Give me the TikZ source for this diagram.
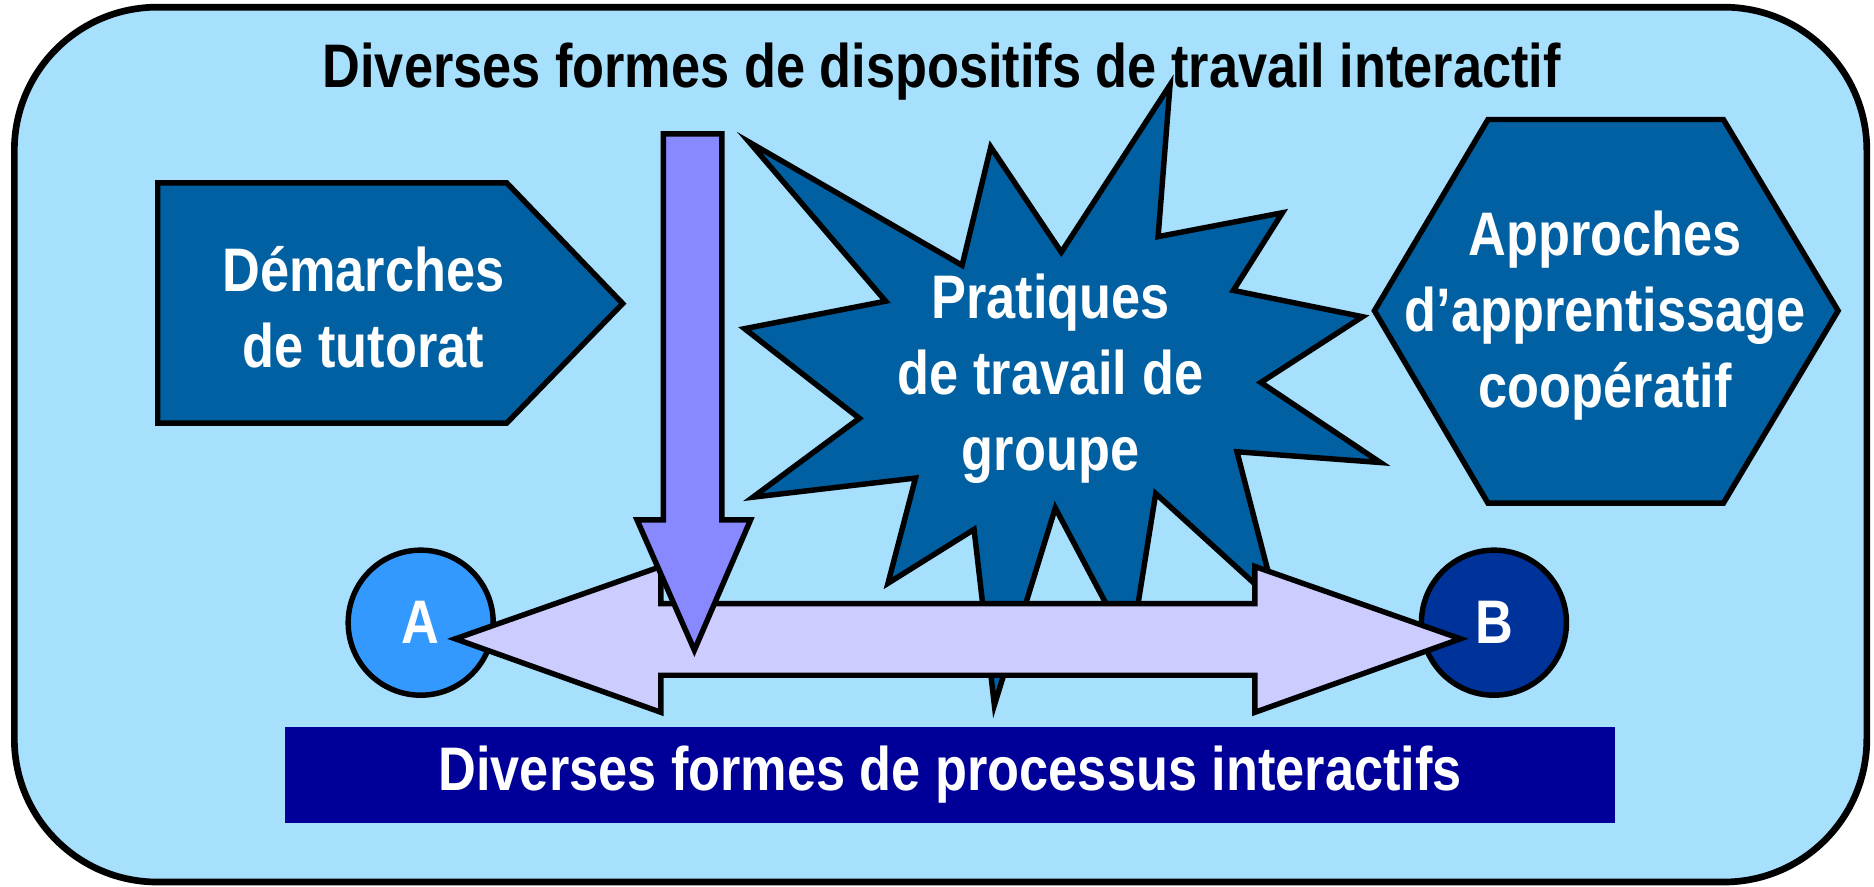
\documentclass[tikz,border=0pt]{standalone}
\usepackage{fontspec}
\setmainfont{Liberation Sans}[FakeStretch=0.85]
\usepackage{xcolor}
\usetikzlibrary{positioning, calc}

\definecolor{skyback}{HTML}{A6E0FC}
\definecolor{deepblue}{HTML}{0060A2}
\definecolor{navyband}{HTML}{000099}
\definecolor{pointA}{HTML}{3399FF}
\definecolor{pointB}{HTML}{003399}
\definecolor{lavender}{HTML}{CCCCFF}
\definecolor{violet}{HTML}{8888FF}

\tikzset{
  edge line/.style={draw=black, line width=1.55pt, line join=miter},
  big label/.style={font=\bfseries\fontsize{17.5}{21.7}\selectfont, align=center, text=white},
  end point/.style={circle, edge line, minimum size=1.45cm, inner sep=0pt, big label},
}

\begin{document}
\begin{tikzpicture}[x=0.011952cm, y=-0.011952cm]
  \useasboundingbox (0,0) rectangle (1568,742);

  % cadre general
  \draw[fill=skyback, line width=1.9pt, rounded corners=1.43cm]
          (12,6) rectangle (1562,738);
  \node[big label, text=black, anchor=base] (title) at (788,73)
          {Diverses formes de dispositifs de travail interactif};

  % formes de dispositifs
  \draw[edge line, fill=deepblue]
          (132,153) -- (424,153) -- (521,254) -- (424,354) -- (132,354) -- cycle;
  \node[big label] (tutorat) at (304,257) {Démarches\\de tutorat};

  \draw[edge line, fill=deepblue]
          (1245,100) -- (1442,100) -- (1538,260) -- (1442,421) -- (1245,421) -- (1150,260) -- cycle;
  \node[big label] (cooperatif) at (1343,264) {Approches\\d’apprentissage\\coopératif};

  \draw[edge line, fill=deepblue]
          (979,71) -- (969,198) -- (1073,178) -- (1032,243) -- (1140,265)
          -- (1055,320) -- (1155,387) -- (1035,378) -- (1068,505) -- (967,413)
          -- (946,544) -- (883,425) -- (832,590) -- (815,443) -- (743,488)
          -- (766,400) -- (630,416) -- (719,350) -- (623,275) -- (741,252)
          -- (627,119) -- (805,222) -- (829,123) -- (888,211) -- cycle;
  \node[big label] (groupe) at (879,317) {Pratiques\\de travail de\\groupe};

  % de A vers B
  \node[end point, fill=pointA] (A) at (352,521) {A};
  \node[end point, fill=pointB] (B) at (1250,521) {B};

  \coordinate (tipA) at ([shift={(29,13.5)}]A.center);
  \coordinate (tipB) at ([shift={(-28,13.5)}]B.center);
  \draw[edge line, fill=lavender]
          (tipA) -- ++(172,-60.5) -- ++(0,31) -- ([shift={(-172,-29.5)}]tipB)
          -- ++(0,-31) -- (tipB) -- ++(-172,61.5) -- ++(0,-31)
          -- ([shift={(172,30.5)}]tipA) -- ++(0,31) -- cycle;

  \draw[edge line, fill=violet]
          (555,112) -- (604,112) -- (604,435) -- (628,435) -- (581,544)
          -- (533,435) -- (555,435) -- cycle;

  % processus
  \node[big label, fill=navyband, minimum width=13.29cm, minimum height=0.968cm, inner sep=0pt]
          (processus) at (795,648.5) {Diverses formes de processus interactifs};
\end{tikzpicture}
\end{document}
